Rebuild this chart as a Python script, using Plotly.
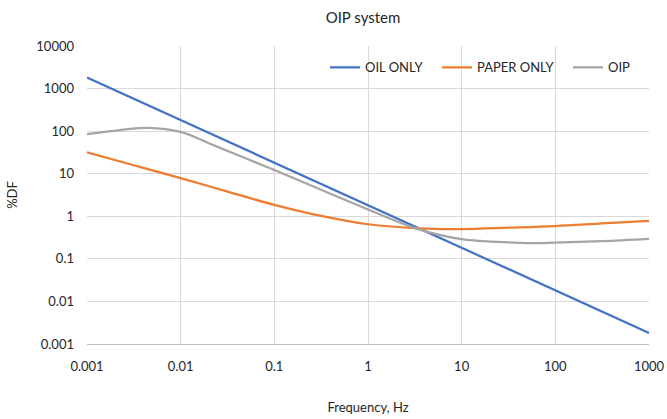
import plotly.graph_objects as go

# ---- data ----
freq_oil = [0.001, 0.01, 0.1, 1, 10, 100, 1000]
df_oil = [1820, 182, 18.2, 1.82, 0.182, 0.0182, 0.00182]

freq_paper = [0.001, 0.00316, 0.01, 0.0316, 0.1, 0.316, 1, 3.43, 10, 31.6, 100, 316, 1000]
df_paper = [31.6, 15.8, 7.9, 3.8, 1.86, 1.02, 0.65, 0.52, 0.50, 0.54, 0.59, 0.68, 0.78]

freq_oip = [0.001, 0.00225, 0.00451, 0.01, 0.0206, 0.043, 0.1, 0.32, 1, 3.43, 10, 35.5, 63, 100, 316, 1000]
df_oip = [85, 106, 120, 96, 50.5, 26.0, 12.2, 4.14, 1.45, 0.50, 0.29, 0.241, 0.233, 0.241, 0.26, 0.294]

x_ticks = [0.001, 0.01, 0.1, 1, 10, 100, 1000]
x_labels = ["0.001", "0.01", "0.1", "1", "10", "100", "1000"]
y_ticks = [0.001, 0.01, 0.1, 1, 10, 100, 1000, 10000]
y_labels = ["0.001", "0.01", "0.1", "1", "10", "100", "1000", "10000"]

FONT = "Lato"
TXT = "#262626"

fig = go.Figure()
fig.add_trace(go.Scatter(x=freq_oil, y=df_oil, mode="lines", name="OIL ONLY", showlegend=True,
                         line=dict(color="#4472C4", width=2.25), legend="legend"))
fig.add_trace(go.Scatter(x=freq_paper, y=df_paper, mode="lines", name="PAPER ONLY", showlegend=True,
                         line=dict(color="#ED7D31", width=2.25, shape="spline"), legend="legend2"))
fig.add_trace(go.Scatter(x=freq_oip, y=df_oip, mode="lines", name="OIP", showlegend=True,
                         line=dict(color="#A5A5A5", width=2.25, shape="spline"), legend="legend3"))

leg_common = dict(orientation="h", yanchor="middle", y=0.928, xanchor="left",
                  bgcolor="rgba(0,0,0,0)", font=dict(family=FONT, size=13, color=TXT),
                  itemwidth=30, tracegroupgap=0)

fig.update_layout(
    width=667, height=419,
    showlegend=True,
    margin=dict(l=87, r=18, t=46, b=75),
    paper_bgcolor="white", plot_bgcolor="white",
    font=dict(family=FONT, size=13, color=TXT),
    title=dict(text="OIP system", x=363/667, xanchor="center", y=1 - 18/419, yanchor="middle",
               font=dict(family=FONT, size=15, color=TXT)),
    legend=dict(x=(325 - 87) / 562, **leg_common),
    legend2=dict(x=(437 - 87) / 562, **leg_common),
    legend3=dict(x=(568 - 87) / 562, **leg_common),
    xaxis=dict(type="log", range=[-3, 3], tickvals=x_ticks, ticktext=x_labels,
               showgrid=True, gridcolor="#D9D9D9", gridwidth=1,
               showline=True, linecolor="#BFBFBF", linewidth=1, mirror=False,
               zeroline=False, ticks="", ticklabelstandoff=10,
               title=dict(text="Frequency, Hz", font=dict(family=FONT, size=13, color=TXT), standoff=30),
               automargin=False),
    yaxis=dict(type="log", range=[-3, 4], tickvals=y_ticks, ticktext=y_labels,
               showgrid=True, gridcolor="#D9D9D9", gridwidth=1,
               showline=False, zeroline=False, ticks="", ticklabelstandoff=12,
               title=dict(text="%DF", font=dict(family=FONT, size=13, color=TXT)),
               automargin=False),
)

fig.write_html("out.html")
